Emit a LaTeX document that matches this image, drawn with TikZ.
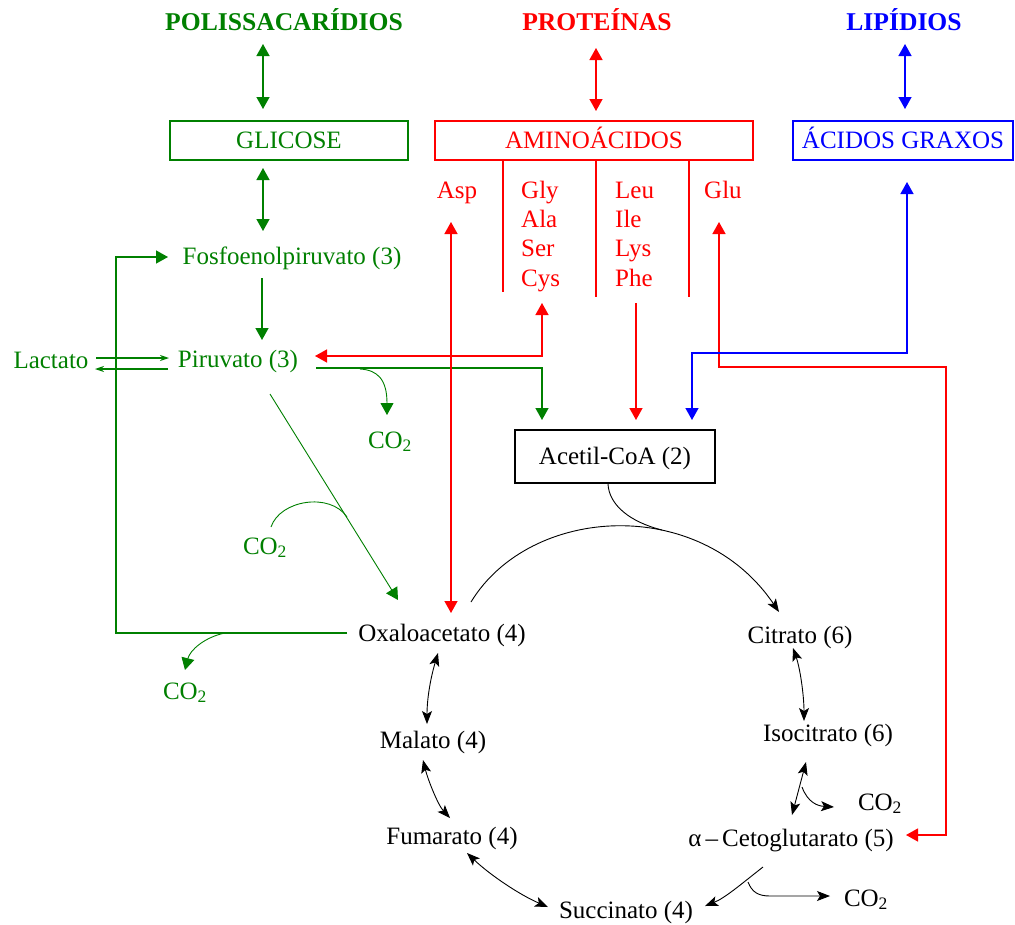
\documentclass[tikz,border=0pt]{standalone}
\usepackage{fontspec}
\setmainfont{Liberation Serif}
\usetikzlibrary{arrows.meta}
\definecolor{verde}{RGB}{0,128,0}
\definecolor{verm}{RGB}{255,0,0}
\definecolor{azul}{RGB}{0,0,255}
\newcommand{\cod}{CO\textsubscript{2}}
\begin{document}
\begin{tikzpicture}[x=1pt,y=-1pt,
  lbl/.style={inner sep=0pt,font=\fontsize{25}{29}\selectfont,text height=16pt,text depth=0pt},
  ttl/.style={lbl,font=\fontsize{25.6}{29}\selectfont\bfseries},
  boxed/.style={lbl,draw,line width=1.4pt,minimum height=39pt},
  flow/.style={line width=1.4pt,>={Triangle[length=12pt,width=13pt]}},
  fine/.style={line width=0.9pt,>={Triangle[length=12pt,width=13pt]}},
  cyc/.style={black,line width=0.9pt,>={Stealth[length=13pt,width=10pt,inset=3pt]}},
  small/.style={line width=1.2pt,>={Stealth[length=9pt,width=6pt]}}
]
\fill[white] (0,0) rectangle (1015,924);
\useasboundingbox (0,0) rectangle (1015,924);

% --- sources
\node[ttl,verde] (pol)  at (284,22) {POLISSACARÍDIOS};
\node[ttl,verm]  (prot) at (597,22) {PROTEÍNAS};
\node[ttl,azul]  (lip)  at (904,22) {LIPÍDIOS};

\node[boxed,verde,minimum width=238pt] (glc) at (289,140.5) {GLICOSE};
\node[boxed,verm,minimum width=318pt]  (aa)  at (594,140.5) {AMINOÁCIDOS};
\node[boxed,azul,minimum width=220pt]  (fa)  at (903,140.5) {ÁCIDOS GRAXOS};

% amino acid groups
\node[lbl,verm] (asp) at (457,190) {Asp};
\node[lbl,verm,anchor=west] (gly) at (521,190) {Gly};
\node[lbl,verm,anchor=west] (ala) at (521,219) {Ala};
\node[lbl,verm,anchor=west] (ser) at (521,248) {Ser};
\node[lbl,verm,anchor=west] (cys) at (521,278) {Cys};
\node[lbl,verm,anchor=west] (leu) at (615,190) {Leu};
\node[lbl,verm,anchor=west] (ile) at (615,219) {Ile};
\node[lbl,verm,anchor=west] (lys) at (615,248) {Lys};
\node[lbl,verm,anchor=west] (phe) at (615,278) {Phe};
\node[lbl,verm,anchor=west] (glu) at (704,190) {Glu};

% --- intermediates
\node[lbl,verde] (pep) at (292,256) {Fosfoenolpiruvato (3)};
\node[lbl,verde] (pir) at (238,359) {Piruvato (3)};
\node[lbl,verde] (lac) at (51,360) {Lactato};
\node[lbl,verde] (co2a) at (390,440) {\cod};
\node[lbl,verde] (co2b) at (265,546) {\cod};
\node[lbl,verde] (co2c) at (185,691) {\cod};

\node[boxed,draw=black,line width=2.8pt,minimum width=200pt,minimum height=53pt] (acc) at (615,456.5) {Acetil-CoA (2)};

% --- cycle
\node[lbl] (oaa) at (442,633) {Oxaloacetato (4)};
\node[lbl] (cit) at (800,635) {Citrato (6)};
\node[lbl] (iso) at (828,733) {Isocitrato (6)};
\node[lbl] (akg) at (791,838) {α\,–\,Cetoglutarato (5)};
\node[lbl] (suc) at (626,910) {Succinato (4)};
\node[lbl] (fum) at (452,836) {Fumarato (4)};
\node[lbl] (mal) at (433,740) {Malato (4)};
\node[lbl] (co2d) at (880,802) {\cod};
\node[lbl] (co2e) at (866,898) {\cod};

% --- connector end points
\coordinate (polA) at (263,44);   \coordinate (glcA) at (263,109);
\coordinate (glcB) at (263,168);  \coordinate (pepA) at (263,231);
\coordinate (protA) at (596,48);  \coordinate (aaA) at (596,111);
\coordinate (lipA) at (905,44);   \coordinate (faA) at (905,109);
\coordinate (pepB) at (262,278);  \coordinate (pirA) at (262,340);

% green: carbohydrate side
\draw[flow,verde,<->] (polA) -- (glcA);
\draw[flow,verde,<->] (glcB) -- (pepA);
\draw[flow,verde,->] (pepB) -- (pirA);
\draw[small,verde,->] (96,358) -- (169,358);
\draw[small,verde,->] (168,369) -- (95,369);
\draw[flow,verde,->] (347,633) -- (116,633) -- (116,257) -- (168,257);
\draw[fine,verde,->] (225,633) .. controls (205,637) and (190,650) .. (185,670);
\draw[flow,verde,->] (316,368) -- (542,368) -- (542,420);
\draw[fine,verde,->] (360,369) .. controls (378,370) and (387,380) .. (387,415);
\draw[fine,verde,->] (270,394) -- (398,600);
\draw[fine,verde] (271,527) .. controls (280,500) and (330,492) .. (347,517);

% red: amino acids
\draw[flow,verm] (503,160) -- (503,292);
\draw[flow,verm] (596,160) -- (596,297);
\draw[flow,verm] (689,160) -- (689,297);
\draw[flow,verm,<->] (protA) -- (aaA);
\draw[flow,verm,<->] (451,222) -- (451,613);
\draw[flow,verm,<->] (315,356) -- (542,356) -- (542,303);
\draw[flow,verm,->] (636,303) -- (636,420);
\draw[flow,verm,<->] (719,222) -- (719,367) -- (946,367) -- (946,835) -- (906,835);

% blue: lipids
\draw[flow,azul,<->] (lipA) -- (faA);
\draw[flow,azul,<->] (907,182) -- (907,353) -- (692,353) -- (692,420);

% black: citric acid cycle
\draw[cyc,->] (471,602) .. controls (530,505) and (700,495) .. (779,612);
\draw[cyc] (608,484) .. controls (609,505) and (630,522) .. (662,530);
\draw[cyc,<->] (438,653) .. controls (430,680) and (427,700) .. (427,724);
\draw[cyc,<->] (423,760) .. controls (428,780) and (438,805) .. (450,818);
\draw[cyc,<->] (467,853) .. controls (490,875) and (520,895) .. (548,907);
\draw[cyc,<->] (793,648) .. controls (800,668) and (804,695) .. (804,721);
\draw[cyc,<->] (806,762) -- (792,815);
\draw[cyc,->] (802,787) .. controls (808,803) and (818,806) .. (834,807);
\draw[cyc,->] (763,867) .. controls (740,885) and (725,898) .. (705,906);
\draw[cyc,->] (748,882) .. controls (752,892) and (758,896) .. (770,896) -- (830,896);
\end{tikzpicture}
\end{document}
